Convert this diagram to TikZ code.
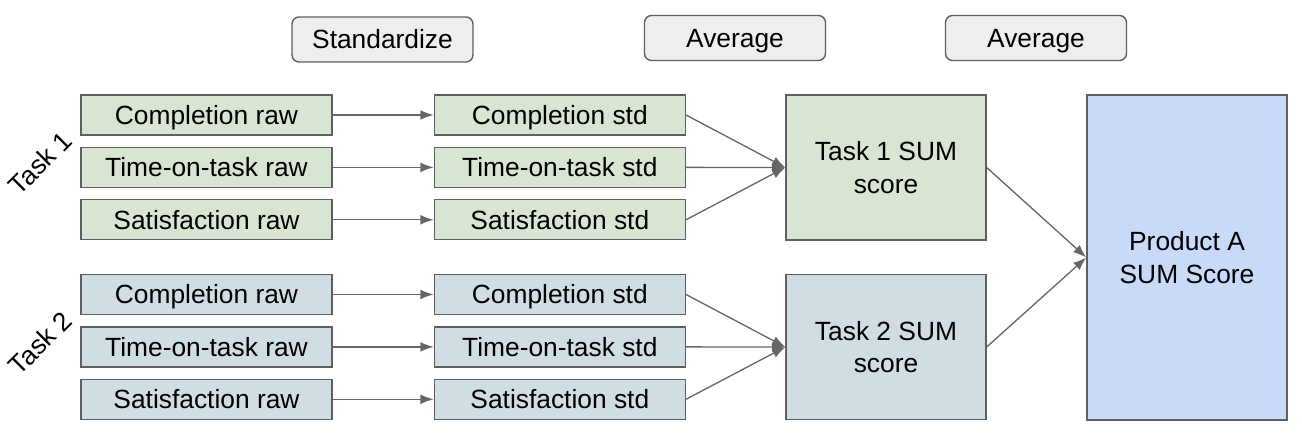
\documentclass[tikz,border=0pt]{standalone}
\usepackage{fontspec}
\setmainfont{Liberation Sans}
\usetikzlibrary{arrows.meta, positioning}
\definecolor{greenbox}{HTML}{D9E5D3}
\definecolor{bluebox}{HTML}{D0DDE3}
\definecolor{prodbox}{HTML}{C9DAF8}
\definecolor{headbox}{HTML}{EEEEEE}
\definecolor{edgegray}{HTML}{5F5F5F}
\definecolor{linegray}{HTML}{666666}

\begin{document}
\begin{tikzpicture}[x=0.02cm,y=-0.02cm,->,>={Latex[length=7.5pt,width=5.5pt]},node distance=0.22cm and 2.02cm,
  every node/.style={font=\fontsize{15}{18.5}\selectfont},
  box/.style={draw=edgegray,line width=0.8pt,inner sep=0pt,align=center},
  raw box/.style={box,minimum width=5.02cm,minimum height=0.8cm,text height=13.7pt,text depth=3pt},
  task one/.style={raw box,fill=greenbox},
  task two/.style={raw box,fill=bluebox},
  sum box/.style={box,minimum width=4cm,minimum height=2.9cm},
  head box/.style={box,fill=headbox,rounded corners=4pt,minimum width=3.62cm,minimum height=0.9cm,text height=13.7pt,text depth=3pt},
  flow/.style={color=linegray,line width=0.75pt}]
  \useasboundingbox (0,0) rectangle (1302,445);
  % headers
  \node[head box] (stdhead) at (382.5,39.5) {Standardize};
  \node[head box] (avghead1) at (735,38) {Average};
  \node[head box] (avghead2) at (1036,38) {Average};
  % task 1
  \node[task one] (c1raw) at (206.5,115) {Completion raw};
  \node[task one] (t1raw) [below=of c1raw] {Time-on-task raw};
  \node[task one] (s1raw) [below=of t1raw] {Satisfaction raw};
  \node[task one] (c1std) [right=of c1raw] {Completion std};
  \node[task one] (t1std) [right=of t1raw] {Time-on-task std};
  \node[task one] (s1std) [right=of s1raw] {Satisfaction std};
  % task 2
  \node[task two] (c2raw) at (206.5,294.5) {Completion raw};
  \node[task two] (t2raw) [below=of c2raw] {Time-on-task raw};
  \node[task two] (s2raw) [below=of t2raw] {Satisfaction raw};
  \node[task two] (c2std) [right=of c2raw] {Completion std};
  \node[task two] (t2std) [right=of t2raw] {Time-on-task std};
  \node[task two] (s2std) [right=of s2raw] {Satisfaction std};
  % scores
  \node[sum box,fill=greenbox] (sum1) at (886,167.5) {Task 1 SUM\\score};
  \node[sum box,fill=bluebox] (sum2) at (886,347) {Task 2 SUM\\score};
  \node[box,fill=prodbox,minimum width=4cm,minimum height=6.5cm] (prod) at (1187,257.5) {Product A\\SUM Score};
  \node[rotate=45] (task1) at (40,163) {Task 1};
  \node[rotate=45] (task2) at (40,343) {Task 2};
  \path[flow]
    (c1raw) edge (c1std)
    (t1raw) edge (t1std)
    (s1raw) edge (s1std)
    (c2raw) edge (c2std)
    (t2raw) edge (t2std)
    (s2raw) edge (s2std)
    (c1std.east) edge (sum1.west)
    (t1std.east) edge (sum1.west)
    (s1std.east) edge (sum1.west)
    (c2std.east) edge (sum2.west)
    (t2std.east) edge (sum2.west)
    (s2std.east) edge (sum2.west)
    (sum1.east) edge (prod.west)
    (sum2.east) edge (prod.west);
\end{tikzpicture}
\end{document}
